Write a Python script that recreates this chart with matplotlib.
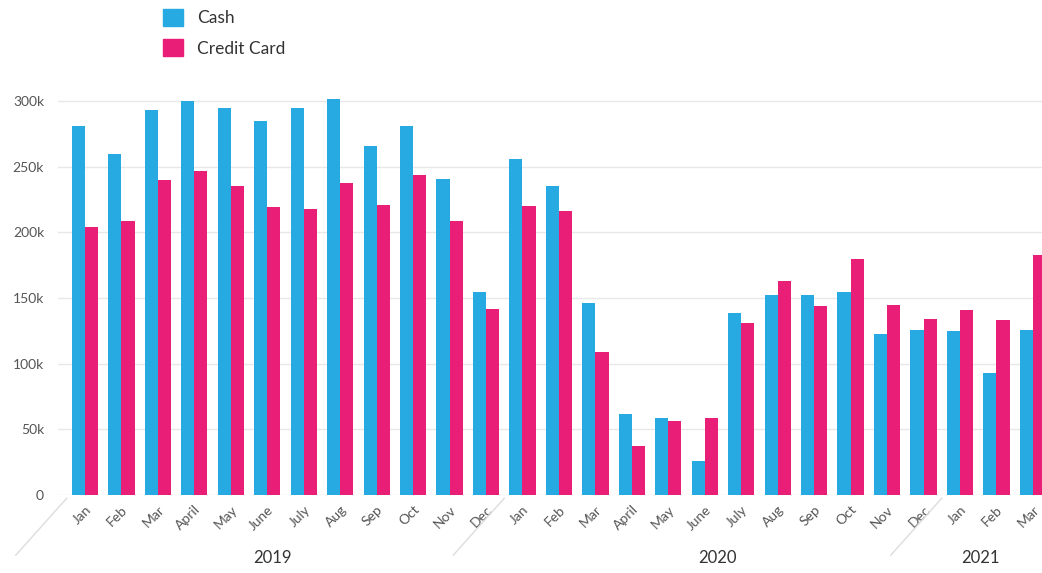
import matplotlib.pyplot as plt
from matplotlib.patches import Patch

plt.rcParams['font.family'] = ['Lato', 'DejaVu Sans']

months = ["Jan", "Feb", "Mar", "April", "May", "June", "July", "Aug",
          "Sep", "Oct", "Nov", "Dec",
          "Jan", "Feb", "Mar", "April", "May", "June", "July", "Aug",
          "Sep", "Oct", "Nov", "Dec",
          "Jan", "Feb", "Mar"]
years = ["2019", "2020", "2021"]
months_per_year = [12, 12, 3]

cash = [281, 260, 293, 300, 295, 285, 295, 302, 266, 281, 241, 155,
        256, 235, 146, 62, 59, 26, 139, 152, 152, 155, 123, 126,
        125, 93, 126]
credit = [204, 209, 240, 247, 235, 219, 218, 238, 221, 244, 209, 142,
          220, 216, 109, 37, 56, 59, 131, 163, 144, 180, 145, 134,
          141, 133, 183]
cash = [v * 1000 for v in cash]
credit = [v * 1000 for v in credit]

blue = "#27a9e1"
pink = "#e91e76"

fig = plt.figure(figsize=(10.42, 5.73), dpi=100)
ax = fig.add_axes([58 / 1042, 78 / 573, 1 - 58 / 1042, 407 / 573])

x = list(range(len(months)))
w = 0.36
ax.bar([i - w / 2 for i in x], cash, width=w, color=blue, zorder=2)
ax.bar([i + w / 2 for i in x], credit, width=w, color=pink, zorder=2)

ax.set_xlim(-0.74, 26.25)
ax.set_ylim(0, 310000)
ax.set_yticks(range(0, 300001, 50000))
ax.set_yticklabels(["0"] + [f"{v}k" for v in range(50, 301, 50)])
ax.yaxis.grid(True, color="#e8e8e8", linewidth=1, zorder=0)
for s in ax.spines.values():
    s.set_visible(False)
ax.tick_params(axis="y", length=0, pad=10, labelsize=10, labelcolor="#555555")

ax.set_xticks(x)
ax.set_xticklabels(months, rotation=45, ha="right", va="top",
                   rotation_mode="anchor")
ax.tick_params(axis="x", length=0, pad=6, labelsize=10, labelcolor="#555555")

# year groups: diagonal separators and year labels
trans = ax.get_xaxis_transform()
label_shift = {"2019": -0.35, "2020": -0.15, "2021": 0.0}
start = 0
for year, n in zip(years, months_per_year):
    b = start - 0.5
    ax.plot([b, b - 1.4], [-0.008, -0.148], transform=trans, color="#dddddd",
            linewidth=1, clip_on=False)
    mid = start + (n - 1) / 2
    if year == "2021":
        mid = (b + 26.25) / 2 - 0.3
    ax.text(mid + label_shift[year], -0.155, year, transform=trans,
            ha="center", va="center", fontsize=12, color="#333333")
    start += n

handles = [Patch(color=blue), Patch(color=pink)]
fig.legend(handles, ["Cash", "Credit Card"], loc="upper left",
           bbox_to_anchor=(147 / 1042, 1.012), frameon=False, fontsize=12.5,
           handlelength=1.15, handleheight=1.15, handletextpad=0.85,
           labelspacing=0.75, labelcolor="#333333")

fig.savefig("out.png", dpi=100)
